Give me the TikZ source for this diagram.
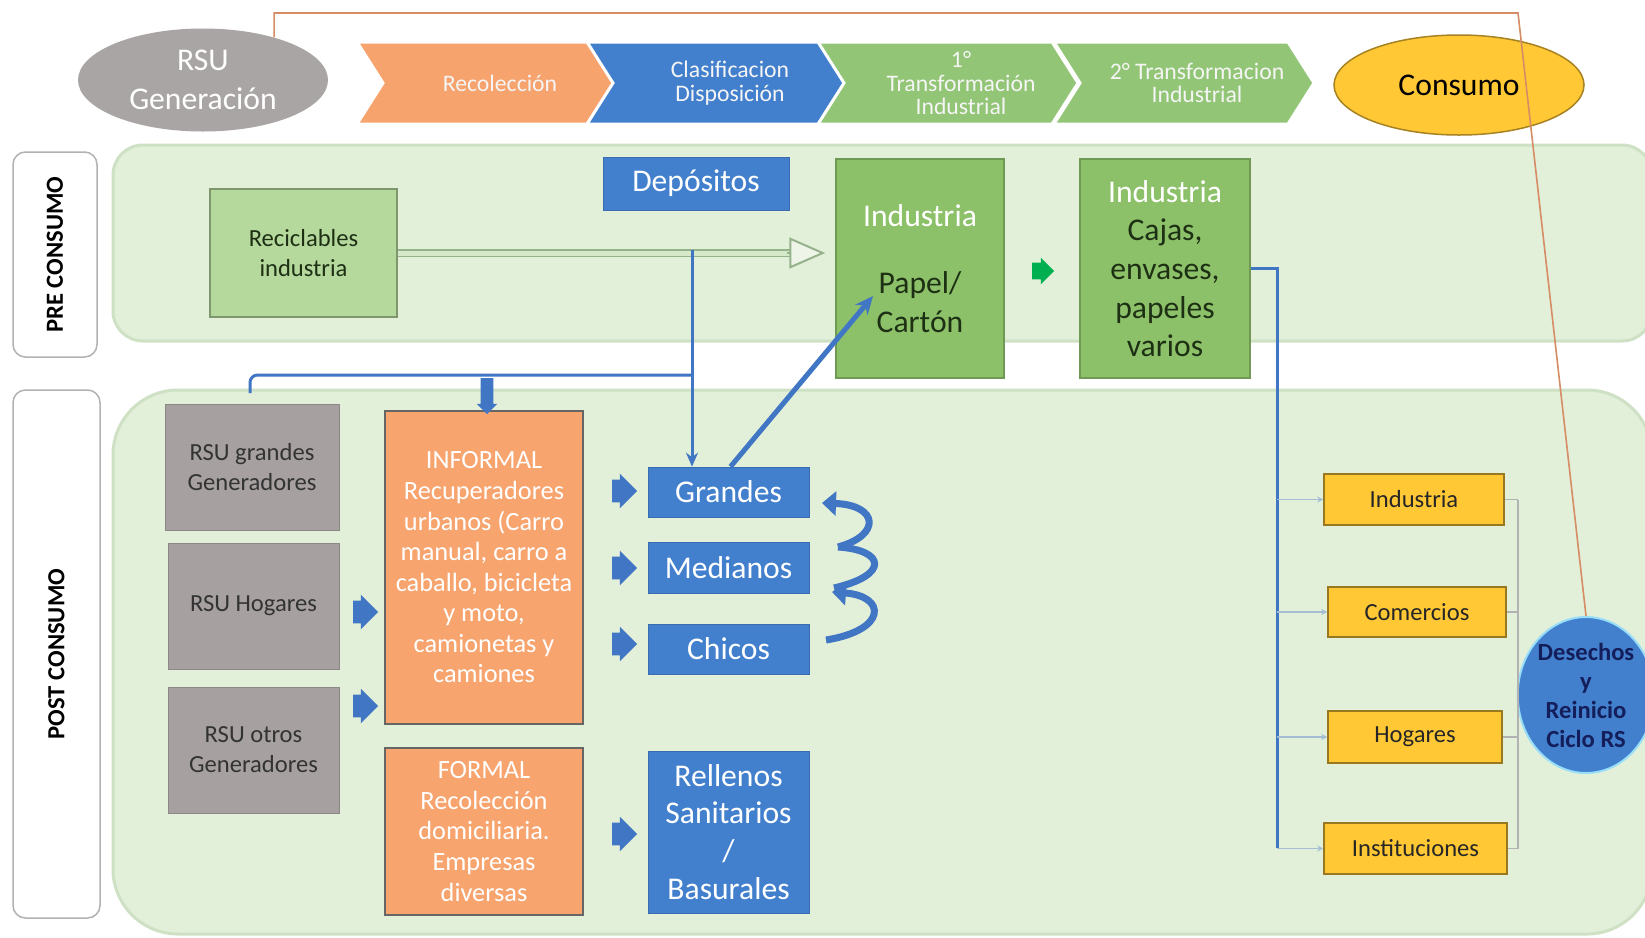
\documentclass[tikz,border=0pt]{standalone}
\usepackage{fontspec}
\setmainfont{Carlito}
\usetikzlibrary{shapes.geometric,shapes.arrows,arrows.meta,positioning,calc}
\newlength\pxu
\setlength\pxu{0.02cm}
\definecolor{bandGreen}{RGB}{226,239,217}
\definecolor{bandEdge}{RGB}{206,225,196}
\definecolor{lightGreen}{RGB}{181,216,156}
\definecolor{midGreen}{RGB}{140,193,105}
\definecolor{chevGreen}{RGB}{146,198,118}
\definecolor{boxBlue}{RGB}{66,128,206}
\definecolor{chevOrange}{RGB}{246,163,110}
\definecolor{boxOrange}{RGB}{247,164,110}
\definecolor{boxGray}{RGB}{166,160,160}
\definecolor{boxYellow}{RGB}{255,200,52}
\definecolor{lineBlue}{RGB}{64,118,196}
\definecolor{feedBlue}{RGB}{165,190,212}
\definecolor{cicloLine}{RGB}{214,140,100}
\definecolor{darkTxt}{RGB}{30,48,20}
\definecolor{navyTxt}{RGB}{20,30,90}
\definecolor{arrowGreen}{RGB}{0,176,80}
\definecolor{hollowEdge}{RGB}{150,178,140}

\begin{document}
\begin{tikzpicture}[x=0.02cm, y=-0.02cm,
  sz/.style 2 args={minimum width=#1\pxu, minimum height=#2\pxu},
  box/.style={rectangle, inner sep=0pt, align=center, font=\fontsize{18}{22}\selectfont},
  small/.style={font=\fontsize{14}{17}\selectfont},
  lbl/.style={rectangle, draw=black!30, fill=white, rounded corners=0.25cm, line width=1.5\pxu, font=\bfseries\fontsize{14}{17}\selectfont},
  bluebox/.style={box, fill=boxBlue, draw=boxBlue!85!black, text=white},
  greenbox/.style={box, fill=midGreen, draw=midGreen!80!black, line width=1.5\pxu, text=darkTxt},
  graybox/.style={box, small, fill=boxGray, draw=boxGray!85!black, text=black!80},
  orangebox/.style={box, fill=boxOrange, draw=black!60, line width=1.5\pxu, text=white, font=\fontsize{15}{17.4}\selectfont},
  yellowbox/.style={box, small, fill=boxYellow, draw=boxYellow!60!black, line width=1.5\pxu, text=black!85},
  chtext/.style={align=center, text=white!92!gray, font=\fontsize{13.5}{13.5}\selectfont},
  fat/.style={single arrow, fill=lineBlue, inner xsep=0pt, inner ysep=11\pxu, minimum height=25\pxu, single arrow head extend=6\pxu},
  conn/.style={draw=lineBlue, line width=3\pxu},
  feed/.style={draw=feedBlue, line width=1.5\pxu, -{Stealth[length=0.12cm, width=0.12cm]}},
  collect/.style={draw=black!30, line width=1.2\pxu},
  ciclo/.style={draw=cicloLine, line width=1.6\pxu},
  coil/.style={draw=lineBlue, line width=7\pxu, -{Triangle[length=0.28cm, width=0.48cm]}}]

\useasboundingbox (0,0) rectangle (1645,937);
\fill[white] (0,0) rectangle (1645,937);

% bands
\filldraw[fill=bandGreen, draw=bandEdge, line width=3\pxu, rounded corners=0.6cm] (113,145) rectangle (1652,341);
\filldraw[fill=bandGreen, draw=bandEdge, line width=3\pxu, rounded corners=1.3cm] (113,390) rectangle (1652,934);

\node[lbl, rotate=90, sz={205}{84}] (pre) at (55,254.5) {PRE CONSUMO};
\node[lbl, rotate=90, sz={528}{87}] (post) at (56.5,654) {POST CONSUMO};

% top row
\node[ellipse, fill=boxGray!95!white, sz={250}{103}, inner sep=0pt, align=center, text=white,
  font=\fontsize{18}{22}\selectfont] (gen) at (203,80) {RSU\\Generación};
\foreach \xa/\col/\txt [count=\i] in {357/chevOrange/{Recolección},
  587/boxBlue/{Clasificacion\\Disposición},
  818/chevGreen/{1°\\Transformación\\Industrial},
  1054/chevGreen/{2° Transformacion\\Industrial}}{
  \filldraw[fill=\col, draw=white, line width=3\pxu] (\xa,42) -- ++(234,0) -- ++(26,41) -- ++(-26,41) -- ++(-234,0) -- ++(26,-41) -- cycle;
  \node[chtext] (ch\i) at (\xa+143,83) {\txt};
}
\node[ellipse, fill=boxYellow, draw=boxYellow!65!black, line width=1.5\pxu, sz={250}{100}, inner sep=0pt,
  font=\fontsize{18}{22}\selectfont] (consumo) at (1459,85) {Consumo};

% pre consumo
\node[box, small, fill=lightGreen, draw=lightGreen!70!black, line width=1.5\pxu, text=darkTxt, sz={187}{128}] (recic) at (303.5,253) {Reciclables\\industria};
\node[bluebox, sz={186}{53}] (depos) at (696,183.5) {Depósitos};
\node[greenbox, sz={168}{219}] (papel) at (920,268.5) {\textcolor{white}{Industria}\\[29\pxu]Papel/\\Cartón};
\node[greenbox, sz={170}{219}] (cajas) at (1165,268.5) {\textcolor{white}{Industria}\\Cajas,\\envases,\\papeles\\varios};
\node[fat, fill=arrowGreen, inner ysep=8\pxu, minimum height=22\pxu, single arrow head extend=5\pxu] (ga) at (1039,271) {};

% post consumo
\node[graybox, sz={174}{126}] (g1) at (252,467) {RSU grandes\\Generadores};
\node[graybox, sz={171}{126}] (g2) at (253.5,606) {RSU Hogares};
\node[graybox, sz={171}{126}] (g3) at (253.5,750) {RSU otros\\Generadores};
\node[orangebox, sz={198}{313}] (informal) at (484,567.5) {INFORMAL\\Recuperadores\\urbanos (Carro\\manual, carro a\\caballo, bicicleta\\y moto,\\camionetas y\\camiones};
\node[orangebox, sz={198}{167}] (formal) at (484,831.5) {FORMAL\\Recolección\\domiciliaria.\\Empresas\\diversas};
\node[fat] (fa1) at (360,612) {};
\node[fat] (fa2) at (360,706) {};
\node[fat] (fa3) at (619,491) {};
\node[fat] (fa4) at (619,568) {};
\node[fat] (fa5) at (619,644) {};
\node[fat] (fa6) at (619,834) {};
\node[bluebox, sz={161}{50}] (grandes) at (728.5,492) {Grandes};
\node[bluebox, sz={161}{51}] (medianos) at (728.5,567.5) {Medianos};
\node[bluebox, sz={161}{50}] (chicos) at (728.5,649) {Chicos};
\node[bluebox, sz={161}{162}, font=\fontsize{18}{21.5}\selectfont] (rellenos) at (728.5,832) {Rellenos\\Sanitarios\\/\\Basurales};

\node[yellowbox, sz={180}{51}] (yind) at (1414,499.5) {Industria};
\node[yellowbox, sz={178}{50}] (ycom) at (1417,612) {Comercios};
\node[yellowbox, sz={174}{52}] (yhog) at (1415,737) {Hogares};
\node[yellowbox, sz={183}{51}] (yins) at (1415.5,848.5) {Instituciones};
\node[ellipse, fill=boxBlue, draw=cyan!40, line width=2\pxu, sz={122}{156}, inner sep=0pt, align=center, text=navyTxt,
  font=\bfseries\fontsize{14}{16.5}\selectfont] (desechos) at (1586,695) {Desechos\\y\\Reinicio\\Ciclo RS};

% connectors
\coordinate (split) at (692,250);
\coordinate (junc) at (692,375);
\coordinate (lend) at (250,393);
\coordinate (tipEnd) at ($(papel.west |- recic.east)+(-10,0)$);
\draw[draw=hollowEdge, double=lightGreen!55, double distance=5\pxu, line width=1.8\pxu]
  (recic.east) -- ($(tipEnd)+(-34,0)$);
\draw[draw=hollowEdge, line width=2\pxu, -{Triangle[length=0.72cm, width=0.62cm, fill=bandGreen!60!white, line join=miter]}]
  ($(tipEnd)+(-38,0)$) -- (tipEnd);
\draw[conn, -{Stealth[length=0.28cm, width=0.24cm]}] (split) -- (split |- grandes.north);
\draw[conn, rounded corners=0.15cm] (junc) -| (lend);
\node[single arrow, fill=lineBlue, inner xsep=0pt, inner ysep=6\pxu, minimum height=36\pxu,
  single arrow head extend=4\pxu, rotate=-90] (da) at (487,393) {};
\draw[conn, line width=5\pxu, -{Stealth[length=0.36cm, width=0.32cm]}] ($(grandes.north)+(2,0)$) -- (873,296);

% coil
\draw[coil] (826,640) .. controls (888,630) and (886,596) .. (832,592);
\draw[coil, -] (834,588) .. controls (890,575) and (885,550) .. (838,547);
\draw[coil] (838,547) .. controls (882,535) and (878,505) .. (822,503);

% consumo branches
\coordinate (trunkEnd) at (1277,848);
\draw[conn] (cajas.east) -| (trunkEnd);
\foreach \b in {yind,ycom,yhog,yins}
  \draw[feed] (trunkEnd |- \b.west) -- (\b.west);
\coordinate (coll) at (1518,695);
\foreach \b in {yind,ycom,yhog,yins}
  \draw[collect] (\b.east) -- (coll |- \b.east);
\draw[collect] (coll |- yind.east) -- (coll |- yins.east);
\draw[collect] (coll) -- (desechos.west);

% ciclo
\coordinate (cicloTop) at (1518,13);
\draw[ciclo] (gen.31) |- (cicloTop) -- (desechos.north);
\end{tikzpicture}
\end{document}
